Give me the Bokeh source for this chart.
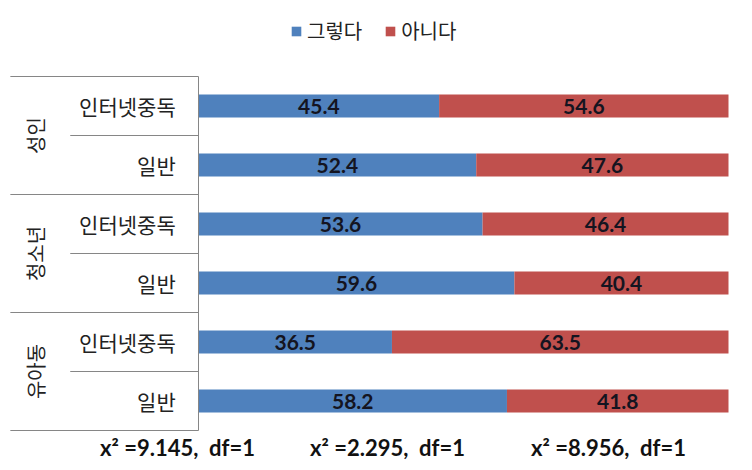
import math
from bokeh.plotting import figure
from bokeh.models import Range1d, ColumnDataSource, Legend, LegendItem, Label
from bokeh.core.properties import value
from bokeh.embed import file_html
from bokeh.resources import INLINE

# ---- data ----
groups = ["성인", "청소년", "유아동"]
subs = ["인터넷중독", "일반"]
yes_vals = [45.4, 52.4, 53.6, 59.6, 36.5, 58.2]   # 그렇다
no_vals = [54.6, 47.6, 46.4, 40.4, 63.5, 41.8]    # 아니다
series_names = ["그렇다", "아니다"]
NB = "\u00a0"
stats = [f"x²{NB}=9.145,{NB}{NB}df=1", f"x²{NB}=2.295,{NB}{NB}df=1", f"x²{NB}=8.956,{NB}{NB}df=1"]

BLUE = "#4F81BD"
RED = "#C0504D"
KFONT = "Noto Sans CJK KR"
NFONT = "Lato"

W, H = 744, 462
PX0, PXW = 198, 5.3          # pixel of value 0, pixels per unit
TOP, ROW = 76, 59            # plot-area top (px from top), row height

n = len(yes_vals)
p = figure(width=W, height=H, output_backend="svg", toolbar_location=None,
           x_axis_type=None, y_axis_type=None, min_border=0,
           x_range=Range1d(-PX0 / PXW, (W - PX0) / PXW),
           y_range=Range1d(-(H - TOP - n * ROW) / ROW, n + TOP / ROW))
p.outline_line_color = None
p.xgrid.visible = False
p.ygrid.visible = False
p.background_fill_color = "white"
p.border_fill_color = "white"

ys = [n - 0.5 - i for i in range(n)]
totals = [a + b for a, b in zip(yes_vals, no_vals)]
src = ColumnDataSource(dict(
    y=ys, yes=yes_vals, no=no_vals, tot=totals,
    yes_mid=[v / 2 for v in yes_vals],
    no_mid=[a + b / 2 for a, b in zip(yes_vals, no_vals)],
    yes_lbl=[f"{v:.1f}" for v in yes_vals],
    no_lbl=[f"{v:.1f}" for v in no_vals],
    sub=[subs[i % 2] for i in range(n)],
))

r_yes = p.hbar(y="y", left=0, right="yes", height=0.39, source=src,
               fill_color=BLUE, line_color=None)
r_no = p.hbar(y="y", left="yes", right="tot", height=0.39, source=src,
              fill_color=RED, line_color=None)

for xcol, tcol in (("yes_mid", "yes_lbl"), ("no_mid", "no_lbl")):
    p.text(x=xcol, y="y", text=tcol, source=src, text_align="center",
           text_baseline="middle", text_font=value(NFONT), text_font_style="bold",
           text_font_size="21px", text_color="#141420")

# category labels
p.text(x=-4.3, y="y", text="sub", source=src, text_align="right",
       text_baseline="middle", text_font=value(KFONT), text_font_size="21px",
       text_color="#222222")
gsrc = ColumnDataSource(dict(y=[n - 1 - 2 * g for g in range(len(groups))], g=groups))
p.text(x=-30.8, y="y", text="g", source=gsrc, angle=math.pi / 2,
       text_align="center", text_baseline="middle", text_font=value(KFONT),
       text_font_size="20px", text_color="#222222")

# separators and axis line
LINE = "#868686"
gb = [n - 2 * g for g in range(len(groups) + 1)]
p.segment(x0=-35.5, x1=0, y0=gb, y1=gb, line_color=LINE, line_width=1)
sb = [n - 1 - 2 * g for g in range(len(groups))]
p.segment(x0=-24.2, x1=0, y0=sb, y1=sb, line_color=LINE, line_width=1)
p.segment(x0=[0], x1=[0], y0=[0], y1=[n], line_color=LINE, line_width=1)

legend = Legend(items=[LegendItem(label=series_names[0], renderers=[r_yes]),
                       LegendItem(label=series_names[1], renderers=[r_no])],
                orientation="horizontal", location=(290, H - 45),
                glyph_width=12, glyph_height=12, label_standoff=5, spacing=22,
                padding=0, margin=0, border_line_color=None,
                background_fill_alpha=0, label_text_font=KFONT,
                label_text_font_size="20px", label_text_color="#222222",
                label_height=20)
p.add_layout(legend, "center")

for s, cx in zip(stats, [177, 387, 608]):
    p.add_layout(Label(x=cx, y=H - 447, x_units="screen", y_units="screen",
                       text=s, text_align="center", text_baseline="middle",
                       text_font=NFONT, text_font_style="bold",
                       text_font_size="22px", text_color="#111111"))

open("out.html", "w").write(file_html(p, INLINE))
